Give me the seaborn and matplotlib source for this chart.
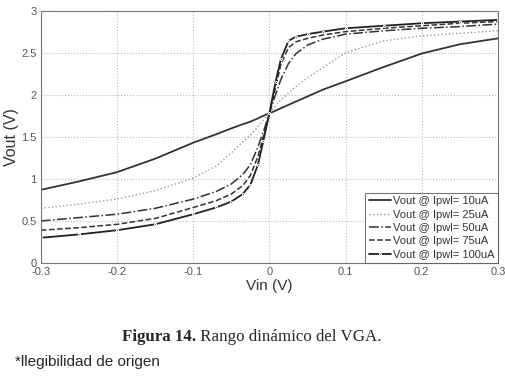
import matplotlib
matplotlib.use('Agg')
import matplotlib.pyplot as plt
import seaborn as sns
import pandas as pd

# Vin sweep (V) and Vout (V)
vin = [-0.3, -0.25, -0.2, -0.15, -0.1, -0.07, -0.05, -0.035, -0.025, -0.015, -0.008, 0,
       0.008, 0.015, 0.025, 0.035, 0.05, 0.07, 0.1, 0.15, 0.2, 0.25, 0.3]

vout_10 = [0.87, 0.97, 1.08, 1.24, 1.43, 1.53, 1.60, 1.65, 1.68, 1.72, 1.75, 1.78,
           1.81, 1.84, 1.88, 1.92, 1.98, 2.06, 2.16, 2.33, 2.49, 2.60, 2.67]
vout_25 = [0.65, 0.70, 0.76, 0.86, 1.01, 1.15, 1.31, 1.44, 1.52, 1.62, 1.70, 1.78,
           1.87, 1.94, 2.02, 2.10, 2.20, 2.32, 2.50, 2.64, 2.70, 2.73, 2.76]
vout_50 = [0.50, 0.54, 0.58, 0.65, 0.76, 0.85, 0.94, 1.05, 1.17, 1.38, 1.56, 1.78,
           2.00, 2.18, 2.37, 2.49, 2.59, 2.66, 2.72, 2.76, 2.79, 2.81, 2.84]
vout_75 = [0.39, 0.42, 0.46, 0.53, 0.66, 0.74, 0.82, 0.92, 1.04, 1.27, 1.50, 1.78,
           2.08, 2.36, 2.56, 2.63, 2.67, 2.71, 2.75, 2.79, 2.82, 2.85, 2.87]
vout_100 = [0.30, 0.34, 0.39, 0.46, 0.58, 0.66, 0.73, 0.82, 0.93, 1.17, 1.45, 1.78,
            2.15, 2.42, 2.64, 2.69, 2.72, 2.75, 2.79, 2.82, 2.85, 2.87, 2.89]

labels = ['Vout @ Ipwl= 10uA', 'Vout @ Ipwl= 25uA', 'Vout @ Ipwl= 50uA',
          'Vout @ Ipwl= 75uA', 'Vout @ Ipwl= 100uA']
series = [vout_10, vout_25, vout_50, vout_75, vout_100]

styles = [
    dict(color='#333333', linestyle='-', linewidth=1.3),
    dict(color='#9a9a9a', linestyle=':', linewidth=1.0),
    dict(color='#333333', linestyle='-.', linewidth=1.1),
    dict(color='#333333', linestyle='--', linewidth=1.1),
    dict(color='#222222', linestyle='-', linewidth=1.3, marker='.', markersize=3),
]

sns.set_style('white')
plt.rcParams['font.family'] = ['Liberation Sans', 'DejaVu Sans']

fig = plt.figure(figsize=(5.05, 3.79), dpi=100)
ax = fig.add_axes([0.081, 0.306, 0.905, 0.666])

for vals, lab, st in zip(series, labels, styles):
    df = pd.DataFrame({'Vin': vin, 'Vout': vals})
    sns.lineplot(data=df, x='Vin', y='Vout', ax=ax, label=lab, **st)

ax.set_xlim(-0.3, 0.3)
ax.set_ylim(0, 3)
ax.set_xticks([-0.3, -0.2, -0.1, 0, 0.1, 0.2, 0.3])
ax.set_xticklabels(['-0.3', '-0.2', '-0.1', '0', '0.1', '0.2', '0.3'])
ax.set_yticks([0, 0.5, 1, 1.5, 2, 2.5, 3])
ax.set_yticklabels(['0', '0.5', '1', '1.5', '2', '2.5', '3'])
ax.grid(True, linestyle=':', color='#bbbbbb', linewidth=0.8)
ax.tick_params(direction='in', length=3, labelsize=8, colors='#555555', pad=3)
for sp in ax.spines.values():
    sp.set_color('#777777')
    sp.set_linewidth(0.8)

ax.set_xlabel('Vin (V)', fontsize=11, color='#333333', labelpad=1)
ax.set_ylabel('Vout (V)', fontsize=11.5, color='#333333', va='center')
ax.yaxis.set_label_coords(-0.064, 0.5)

leg = ax.legend(loc='lower right', fontsize=8, frameon=True, fancybox=False,
                borderaxespad=0, handlelength=2.0, handletextpad=0.2,
                labelspacing=0.3, borderpad=0.3)
leg.get_frame().set_edgecolor('#555555')
leg.get_frame().set_linewidth(0.8)
for t in leg.get_texts():
    t.set_color('#333333')

# caption: bold part, then the rest placed right after it
cap = fig.text(0.242, 0.111, 'Figura 14.', fontsize=12.2, fontweight='bold',
               family='Liberation Serif', ha='left', va='center')
ax.annotate(' Rango dinámico del VGA.', xy=(1, 0.5), xycoords=cap,
            fontsize=12.2, family='Liberation Serif', ha='left', va='center',
            annotation_clip=False)
fig.text(0.03, 0.046, '*llegibilidad de origen', fontsize=11,
         family='Liberation Sans', ha='left', va='center')

fig.savefig('out.png', dpi=100)
